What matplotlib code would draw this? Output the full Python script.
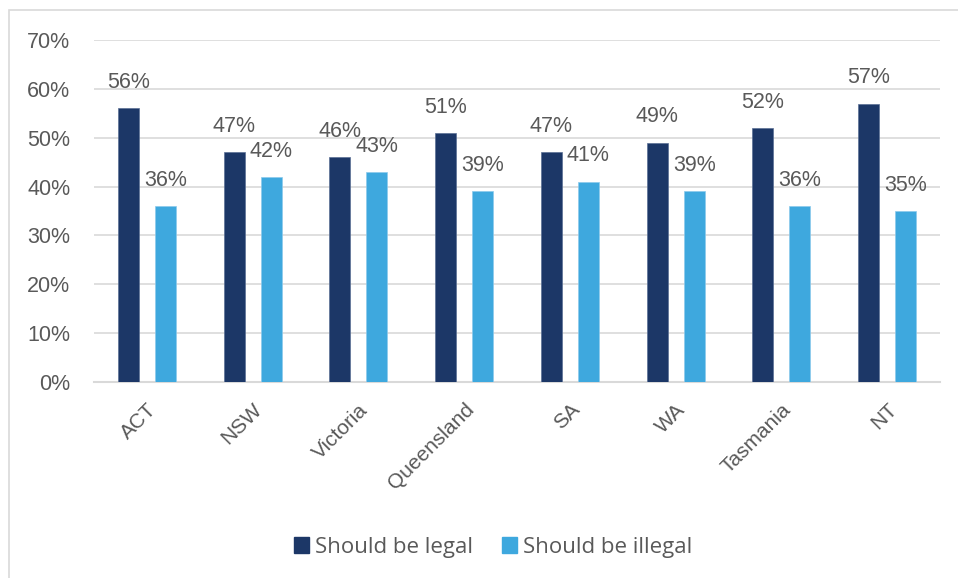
import matplotlib
matplotlib.use("Agg")
import matplotlib.pyplot as plt
import numpy as np
from matplotlib.patches import Rectangle, Patch

categories = ["ACT", "NSW", "Victoria", "Queensland", "SA", "WA", "Tasmania", "NT"]
legal = [56, 47, 46, 51, 47, 49, 52, 57]
illegal = [36, 42, 43, 39, 41, 39, 36, 35]
series_names = ["Should be legal", "Should be illegal"]
colors = ["#1c3767", "#3ea8de"]
yticks = [0, 10, 20, 30, 40, 50, 60, 70]

num_font = "Liberation Sans"
txt_font = "Open Sans"
text_color = "#595959"

fig = plt.figure(figsize=(9.58, 5.78), dpi=100)
fig.patches.append(Rectangle((9/958, -0.05), 1.2, (1 - 10/578) + 0.05, transform=fig.transFigure,
                             fill=False, edgecolor="#d9d9d9", linewidth=1.2, zorder=0))
ax = fig.add_axes([94/958, 1 - 382/578, (940 - 94)/958, (382 - 40)/578])

x = np.arange(len(categories))
w = 0.2
off = 0.175
b1 = ax.bar(x - off, legal, width=w, color=colors[0], edgecolor="#5a6f95", linewidth=0.5, zorder=3)
b2 = ax.bar(x + off, illegal, width=w, color=colors[1], edgecolor="#8ccaec", linewidth=0.5, zorder=3)

for bars, vals in ((b1, legal), (b2, illegal)):
    for rect, v in zip(bars, vals):
        ax.annotate(f"{v}%", (rect.get_x() + rect.get_width()/2, v), xytext=(0, 11),
                    textcoords="offset points", ha="center", va="bottom",
                    fontsize=15.5, color=text_color, family=num_font)

ax.set_xlim(-0.5, len(categories) - 0.5)
ax.set_ylim(0, 70)
ax.set_yticks(yticks)
ax.set_yticklabels([f"{t}%" for t in yticks], fontsize=15.5, color=text_color, family=num_font)
ax.yaxis.grid(True, color="#d9d9d9", linewidth=1.2, zorder=0)
ax.set_axisbelow(True)
for s in ["top", "right", "left"]:
    ax.spines[s].set_visible(False)
ax.spines["bottom"].set_color("#d9d9d9")
ax.spines["bottom"].set_linewidth(1.5)
ax.tick_params(axis="y", length=0, pad=17)
ax.tick_params(axis="x", length=0, pad=13)
ax.set_xticks(x)
ax.set_xticklabels(categories, rotation=45, ha="right", rotation_mode="anchor",
                   fontsize=15, color=text_color, family=num_font)

handles = [Patch(color=c) for c in colors]
leg = fig.legend(handles, series_names, loc="center", bbox_to_anchor=(493/958, 1 - 547/578),
                 ncol=2, frameon=False, handlelength=0.7, handleheight=0.7, handletextpad=0.25,
                 columnspacing=1.3, prop={"family": txt_font, "size": 16})
for t in leg.get_texts():
    t.set_color(text_color)

fig.savefig("out.png", dpi=100)
